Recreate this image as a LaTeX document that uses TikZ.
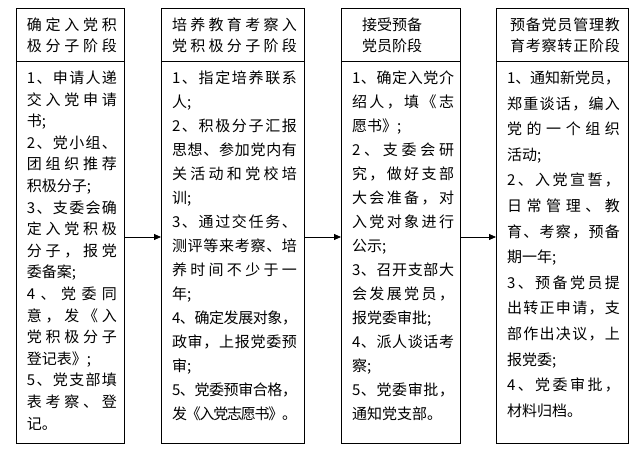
\documentclass[tikz,border=0pt]{standalone}
\usepackage{fontspec}
\setmainfont{Noto Sans CJK SC}
\usetikzlibrary{arrows.meta}
\newcommand\jglue{\hskip 0pt plus 1fil minus 2pt\relax}
\ExplSyntaxOn
\NewDocumentCommand \J { m }
  { \leavevmode \hbox_to_wd:nn { \linewidth } { \tl_map_inline:nn {#1} { ##1 \jglue } \unskip } }
\ExplSyntaxOff
\begin{document}
\begin{tikzpicture}[x=1pt,y=-1pt,
  box/.style={draw, line width=0.8pt, inner sep=0pt, outer sep=0pt, anchor=north west},
  txt/.style={inner sep=0pt, outer sep=0pt, align=left, anchor=base west, font=\fontsize{15pt}{#1}\selectfont},
  arr/.style={line width=0.8pt, -{Triangle[length=7pt,width=6pt]}}]
\useasboundingbox (0,0) rectangle (643,470);
% column boxes
\node[box, minimum width=108pt, minimum height=53pt] (h1) at (16,8) {};
\node[box, minimum width=108pt, minimum height=382pt] (b1) at (16,61) {};
\node[box, minimum width=143pt, minimum height=53pt] (h2) at (161,8) {};
\node[box, minimum width=143pt, minimum height=382pt] (b2) at (161,61) {};
\node[box, minimum width=119pt, minimum height=53pt] (h3) at (341,8) {};
\node[box, minimum width=119pt, minimum height=382pt] (b3) at (341,61) {};
\node[box, minimum width=132pt, minimum height=53pt] (h4) at (496,8) {};
\node[box, minimum width=132pt, minimum height=382pt] (b4) at (496,61) {};
% headers
\node[txt=21pt, text width=90pt] (ht1) at (27,31) {\J{确定入党积}\\\J{极分子阶段}};
\node[txt=21pt, text width=125pt] (ht2) at (172,31) {\J{培养教育考察入}\\\J{党积极分子阶段}};
\node[txt=21pt, text width=64pt, align=center] (ht3) at (360,31) {接受预备\\党员阶段};
\node[txt=21pt, text width=110pt] (ht4) at (510,31) {\J{预备党员管理教}\\\J{育考察转正阶段}};
% bodies
\node[txt=21.6pt, text width=90pt] (t1) at (27,83.5) {%
\J{1、申请人递}\\
\J{交入党申请}\\
书;\\
\J{2、党小组、}\\
\J{团组织推荐}\\
积极分子;\\
\J{3、支委会确}\\
\J{定入党积极}\\
\J{分子，报党}\\
委备案;\\
\J{4、党委同}\\
\J{意，发《入}\\
\J{党积极分子}\\
登记表》;\\
\J{5、党支部填}\\
\J{表考察、登}\\
记。};
\node[txt=24pt, text width=125pt] (t2) at (172,83.5) {%
\J{1、指定培养联系}\\
人;\\
\J{2、积极分子汇报}\\
\J{思想、参加党内有}\\
\J{关活动和党校培}\\
训;\\
\J{3、通过交任务、}\\
\J{测评等来考察、培}\\
\J{养时间不少于一}\\
年;\\
\J{4、确定发展对象，}\\
\J{政审，上报党委预}\\
审;\\
\J{5、党委预审合格，}\\
\J{发《入党志愿书》。}};
\node[txt=24pt, text width=102pt] (t3) at (352,83.5) {%
\J{1、确定入党介}\\
\J{绍人，填《志}\\
愿书》;\\
\J{2、支委会研}\\
\J{究，做好支部}\\
\J{大会准备，对}\\
\J{入党对象进行}\\
公示;\\
\J{3、召开支部大}\\
\J{会发展党员，}\\
报党委审批;\\
\J{4、派人谈话考}\\
察;\\
\J{5、党委审批，}\\
通知党支部。};
\node[txt=25.6pt, text width=113pt] (t4) at (507,83.5) {%
\J{1、通知新党员，}\\
\J{郑重谈话，编入}\\
\J{党的一个组织}\\
活动;\\
\J{2、入党宣誓，}\\
\J{日常管理、教}\\
\J{育、考察，预备}\\
期一年;\\
\J{3、预备党员提}\\
\J{出转正申请，支}\\
\J{部作出决议，上}\\
报党委;\\
\J{4、党委审批，}\\
材料归档。};
% connectors
\draw[arr] ([yshift=15pt]b1.east) -- ([yshift=15pt]b2.west);
\draw[arr] ([yshift=15pt]b2.east) -- ([yshift=15pt]b3.west);
\draw[arr] ([yshift=15pt]b3.east) -- ([yshift=15pt]b4.west);
\end{tikzpicture}
\end{document}
